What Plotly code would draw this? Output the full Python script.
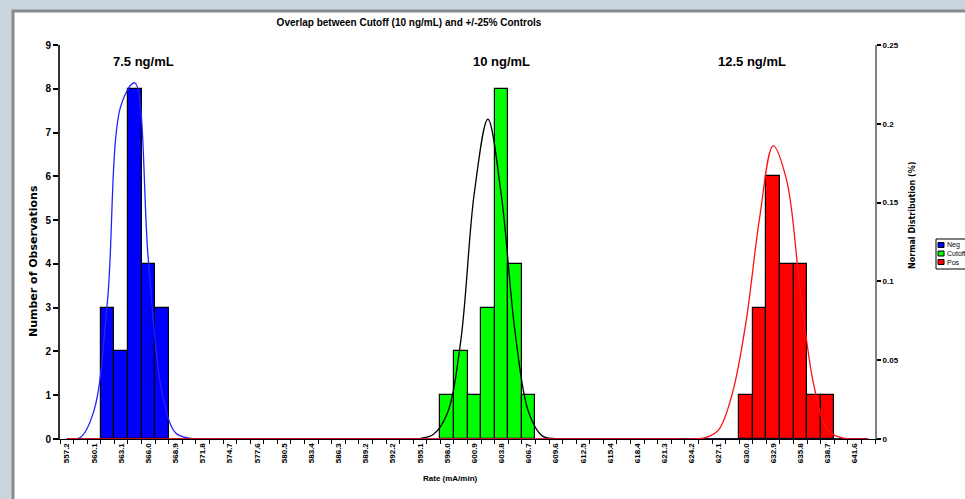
import plotly.graph_objects as go

# ---------------- data ----------------
rate_labels = ["557.2", "560.1", "563.1", "566.0", "568.9", "571.8", "574.7", "577.6",
               "580.5", "583.4", "586.3", "589.2", "592.2", "595.1", "598.0", "600.9",
               "603.8", "606.7", "609.6", "612.5", "615.4", "618.4", "621.3", "624.2",
               "627.1", "630.0", "632.9", "635.8", "638.7", "641.6"]
n_bins = 60  # every bin of the category axis; labels shown on every other bin

neg_bins = [3, 4, 5, 6, 7]
neg_counts = [3, 2, 8, 4, 3]
cut_bins = [28, 29, 30, 31, 32, 33, 34]
cut_counts = [1, 2, 1, 3, 8, 4, 1]
pos_bins = [50, 51, 52, 53, 54, 55, 56]
pos_counts = [1, 3, 6, 4, 4, 1, 1]

# normal distribution curves (read at bin centres; all other bins are 0)
neg_curve = {1: 0.001, 2: 0.018, 3: 0.088, 4: 0.212, 5: 0.226, 6: 0.114, 7: 0.030,
             8: 0.004, 9: 0.0005}
cut_curve = {26: 0.0003, 27: 0.003, 28: 0.016, 29: 0.062, 30: 0.156, 31: 0.203,
             32: 0.154, 33: 0.068, 34: 0.017, 35: 0.002, 36: 0.0002}
pos_curve = {47: 0.0008, 48: 0.006, 49: 0.029, 50: 0.074, 51: 0.140, 52: 0.186,
             53: 0.164, 54: 0.094, 55: 0.034, 56: 0.006, 57: 0.0008, 58: 0.0001}

group_labels = ["7.5 ng/mL", "10 ng/mL", "12.5 ng/mL"]
series_names = ["Neg", "Cutoff", "Pos"]

# ---------------- layout helpers ----------------
W, H = 965, 499
L, R, T, B = 60, 90, 45, 60
PW, PH = W - L - R, H - T - B


def xp(px):  # pixel -> paper x
    return (px - L) / PW


def yp(py):  # pixel -> paper y
    return (H - B - py) / PH


# ---------------- figure ----------------
bins = list(range(n_bins))
fig = go.Figure()

bar_colors = ["#0000FF", "#00FF00", "#FF0000"]
for name, xs, ys, col in zip(series_names, [neg_bins, cut_bins, pos_bins],
                             [neg_counts, cut_counts, pos_counts], bar_colors):
    fig.add_trace(go.Bar(x=xs, y=ys, name=name, width=1, showlegend=False,
                         marker=dict(color=col, line=dict(color="#000000", width=1.2)),
                         yaxis="y"))

curve_colors = ["#2222FF", "#000000", "#FF1010"]
for curve, col in zip([neg_curve, cut_curve, pos_curve], curve_colors):
    fig.add_trace(go.Scatter(x=bins, y=[curve.get(b, 0.0) for b in bins], mode="lines",
                             line=dict(color=col, width=1.3, shape="spline", smoothing=1.0),
                             yaxis="y2", showlegend=False, hoverinfo="skip"))

sans = "Liberation Sans, Arial, sans-serif"
wide = "DejaVu Sans, Verdana, sans-serif"

fig.update_layout(
    width=W, height=H,
    margin=dict(l=L, r=R, t=T, b=B, autoexpand=False),
    paper_bgcolor="#C9D5DC",
    plot_bgcolor="#FFFFFF",
    barmode="overlay",
    bargap=0,
    showlegend=False,
    title=dict(text="Overlap between Cutoff (10 ng/mL) and +/-25% Controls",
               x=409 / W, xanchor="center", xref="container",
               y=1 - 22 / H, yanchor="middle", yref="container",
               font=dict(family=sans, size=10, color="#000000", weight="bold")),
    xaxis=dict(range=[-0.5, n_bins - 0.5], tickmode="array",
               tickvals=[2 * i for i in range(len(rate_labels))], ticktext=rate_labels,
               tickangle=-90, ticks="", showgrid=False, zeroline=False,
               showline=True, linecolor="#000000", linewidth=1,
               tickfont=dict(family=sans, size=8, color="#000000", weight="bold"),
               minor=dict(tickmode="array", tickvals=[b + 0.5 for b in range(-1, n_bins)],
                          ticks="outside", ticklen=4, tickcolor="#000000", tickwidth=1)),
    yaxis=dict(range=[0, 9], dtick=1, showgrid=False, zeroline=False,
               showline=True, linecolor="#333333", linewidth=2,
               ticks="outside", ticklen=5, tickcolor="#000000", tickwidth=1.5,
               tickfont=dict(family=sans, size=10, color="#000000", weight="bold")),
    yaxis2=dict(range=[0, 0.25], dtick=0.05, overlaying="y", side="right",
                showgrid=False, zeroline=False,
                showline=True, linecolor="#808080", linewidth=2,
                ticks="outside", ticklen=4, tickcolor="#000000", tickwidth=1.5,
                tickfont=dict(family=sans, size=8, color="#000000", weight="bold")),
)

# white chart sheet with a grey frame line
fig.add_shape(type="rect", xref="paper", yref="paper", layer="below",
              x0=xp(13), x1=1.3, y0=-0.3, y1=yp(11),
              fillcolor="#FFFFFF", line=dict(color="#8A8A8A", width=3))

# concentration labels above each group
for txt, xb in zip(group_labels, [5.65, 31.97, 50.43]):
    fig.add_annotation(x=xb, y=8.63, xref="x", yref="y", text=txt, showarrow=False,
                       font=dict(family=sans, size=13, color="#000000", weight="bold"))

# axis titles
fig.add_annotation(x=xp(450), y=yp(478), xref="paper", yref="paper",
                   text="Rate (mA/min)", showarrow=False, xanchor="center", yanchor="middle",
                   font=dict(family=sans, size=8, color="#000000", weight="bold"))
fig.add_annotation(x=xp(33), y=yp(261), xref="paper", yref="paper", textangle=-90,
                   text="Number of Observations", showarrow=False,
                   xanchor="center", yanchor="middle",
                   font=dict(family=wide, size=11, color="#000000", weight="bold"))
fig.add_annotation(x=xp(912), y=yp(216), xref="paper", yref="paper", textangle=-90,
                   text="Normal Distribution (%)", showarrow=False,
                   xanchor="center", yanchor="middle",
                   font=dict(family=wide, size=8, color="#000000", weight="bold"))

# compact legend box (partly beyond the right edge, as in the original sheet)
fig.add_shape(type="rect", xref="paper", yref="paper",
              x0=xp(936), x1=xp(1000), y0=yp(269), y1=yp(239),
              fillcolor="#FFFFFF", line=dict(color="#000000", width=1))
for name, col, cy in zip(series_names, bar_colors, [245, 253.5, 262]):
    fig.add_shape(type="rect", xref="paper", yref="paper",
                  x0=xp(938), x1=xp(944), y0=yp(cy + 2.5), y1=yp(cy - 2.5),
                  fillcolor=col, line=dict(color="#000000", width=1))
    fig.add_annotation(x=xp(945), y=yp(cy), xref="paper", yref="paper", text=name,
                       showarrow=False, xanchor="left", yanchor="middle",
                       font=dict(family=sans, size=7, color="#000000"))

fig.write_html("out.html", config={"displayModeBar": False},
               post_script="document.body.style.margin='0';")
